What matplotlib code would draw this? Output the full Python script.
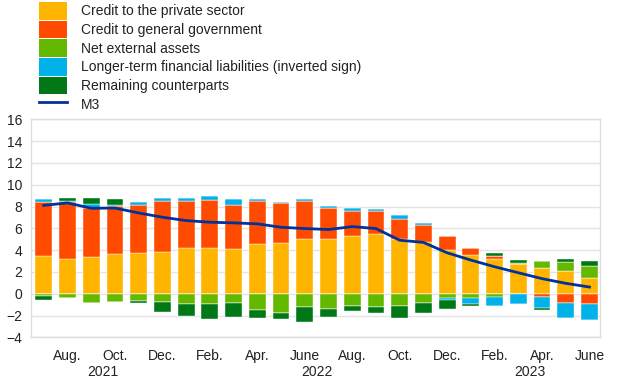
import matplotlib
matplotlib.use("Agg")
import matplotlib.pyplot as plt
import numpy as np
from matplotlib.patches import Patch
from matplotlib.lines import Line2D
from matplotlib.transforms import blended_transform_factory

plt.rcParams['font.family'] = ['Liberation Sans', 'DejaVu Sans']

months = ["July", "Aug.", "Sep.", "Oct.", "Nov.", "Dec.",
          "Jan.", "Feb.", "Mar.", "Apr.", "May", "June",
          "July", "Aug.", "Sep.", "Oct.", "Nov.", "Dec.",
          "Jan.", "Feb.", "Mar.", "Apr.", "May", "June"]
years = ["2021", "2022", "2023"]
year_spans = [(0, 5), (6, 17), (18, 23)]

private = [3.42, 3.21, 3.39, 3.64, 3.70, 3.87, 4.16, 4.22, 4.07, 4.58, 4.67, 5.04,
           5.04, 5.34, 5.50, 4.98, 4.76, 4.06, 3.58, 3.18, 2.72, 2.33, 2.08, 1.45]
government = [4.97, 5.24, 4.45, 4.38, 4.41, 4.61, 4.38, 4.35, 4.10, 3.93, 3.66, 3.47,
              2.83, 2.29, 2.06, 1.88, 1.59, 1.20, 0.63, 0.33, 0.00, -0.29, -0.81, -0.96]
external = [-0.20, -0.36, -0.86, -0.78, -0.64, -0.72, -0.90, -0.90, -0.81, -1.44, -1.80, -1.23,
            -1.40, -1.12, -1.17, -1.12, -0.84, -0.36, -0.41, -0.26, 0.10, 0.67, 0.82, 1.06]
longer_term = [0.27, 0.05, 0.36, 0.10, 0.28, 0.27, 0.21, 0.36, 0.49, 0.15, 0.12, 0.18,
               0.21, 0.21, 0.22, 0.40, 0.12, -0.20, -0.55, -0.82, -0.96, -0.97, -1.37, -1.40]
remaining = [-0.40, 0.28, 0.55, 0.57, -0.20, -0.96, -1.10, -1.40, -1.28, -0.80, -0.50, -1.37,
             -0.69, -0.50, -0.58, -1.14, -0.88, -0.86, -0.12, 0.21, 0.30, -0.19, 0.31, 0.49]
m3 = [8.10, 8.33, 7.84, 7.86, 7.41, 7.02, 6.71, 6.56, 6.50, 6.41, 6.10, 5.98,
      5.89, 6.16, 5.98, 4.91, 4.71, 3.76, 3.09, 2.48, 1.93, 1.39, 0.96, 0.62]

series_names = ["Credit to the private sector", "Credit to general government",
                "Net external assets", "Longer-term financial liabilities (inverted sign)",
                "Remaining counterparts"]
series_vals = [private, government, external, longer_term, remaining]
colors = ["#FFB400", "#FF4B00", "#65B800", "#00B1EA", "#007816"]
m3_color = "#003299"

fig = plt.figure(figsize=(6.2, 3.87), dpi=100)
ax = fig.add_axes([0.0495, 0.128, 0.9185, 0.564])

x = np.arange(len(months))
pos_base = np.zeros(len(x))
neg_base = np.zeros(len(x))
for vals, c in zip(series_vals, colors):
    v = np.array(vals)
    pos = np.where(v > 0, v, 0)
    neg = np.where(v < 0, v, 0)
    ax.bar(x, pos, bottom=pos_base, width=0.71, color=c, edgecolor='white', linewidth=0.3, zorder=2)
    ax.bar(x, neg, bottom=neg_base, width=0.71, color=c, edgecolor='white', linewidth=0.3, zorder=2)
    pos_base += pos
    neg_base += neg

ax.plot(x, m3, color=m3_color, linewidth=2, zorder=3)

ax.set_ylim(-4, 16)
ax.set_yticks(np.arange(-4, 17, 2))
ax.set_xlim(-0.55, 23.45)
ax.set_xticks(x[1::2])
ax.set_xticklabels(months[1::2])
ax.tick_params(axis='both', length=0, labelsize=10, colors='#222222')
ax.tick_params(axis='x', pad=8)
ax.tick_params(axis='y', pad=6)
ax.grid(axis='y', color='#e4e4e4', linewidth=1, zorder=0)
ax.set_axisbelow(True)
for s in ax.spines.values():
    s.set_color('#dddddd')
    s.set_linewidth(1)

trans = blended_transform_factory(ax.transData, ax.transAxes)
for yr, (a, b) in zip(years, year_spans):
    ax.annotate(yr, xy=((a + b) / 2, 0), xycoords=trans, xytext=(0, -19.5),
                textcoords='offset points', ha='center', va='top', fontsize=10, color='#222222')

handles = [Patch(facecolor=c, edgecolor='none') for c in colors]
handles.append(Line2D([0], [0], color=m3_color, linewidth=2))
labels = series_names + ["M3"]
fig.legend(handles, labels, loc='upper left', bbox_to_anchor=(39 / 620, 1 - 2 / 387),
           frameon=False, fontsize=10, borderpad=0, borderaxespad=0,
           handlelength=2.0, handleheight=1.58, labelspacing=0.07, handletextpad=1.0,
           labelcolor='#222222')

fig.savefig("out.png", dpi=100)
